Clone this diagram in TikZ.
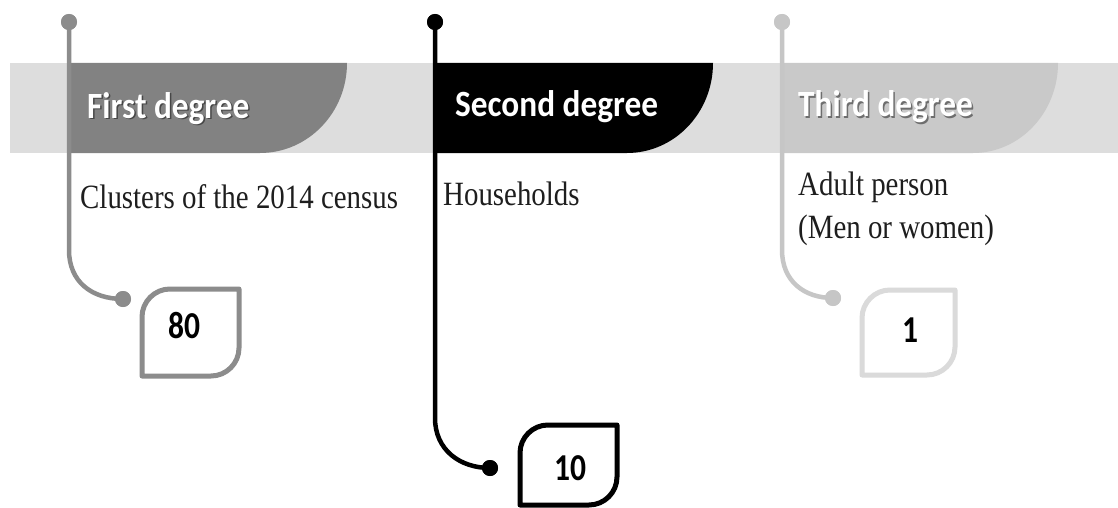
\documentclass[tikz,border=0pt]{standalone}
\usepackage{fontspec}
\setmainfont{Liberation Serif}
\newfontfamily\hdfont{Carlito}
\usetikzlibrary{calc}
\definecolor{bandgray}{HTML}{DDDDDD}
\definecolor{cone}{HTML}{828282}
\definecolor{conel}{HTML}{8C8C8C}
\definecolor{cthree}{HTML}{C9C9C9}
\definecolor{cthreel}{HTML}{C6C6C6}
\definecolor{cthreeb}{HTML}{DADADA}
\definecolor{txtdark}{HTML}{1E1E1E}
\tikzset{
  dotnode/.style={circle,inner sep=0pt,minimum size=16pt,fill=#1,draw=none},
  conn/.style={line width=4.5pt,draw=#1},
  hdtext/.style={anchor=base west,inner sep=0pt,text=white,font=\hdfont\bfseries\fontsize{37}{40}\selectfont},
  hdshadow/.style={anchor=base west,inner sep=0pt,text=black,opacity=0.45,font=\hdfont\bfseries\fontsize{37}{40}\selectfont},
  desc/.style={anchor=base west,inner sep=0pt,text=txtdark,font=\fontsize{34}{40}\selectfont},
  numtext/.style={inner sep=0pt,text=black,font=\hdfont\bfseries\fontsize{38}{40}\selectfont},
  boxline/.style={line width=5pt,draw=#1,line join=round}
}
\newcommand{\hx}[1]{\scalebox{0.9}[1]{#1}}
\newcommand{\dx}[1]{\scalebox{0.85}[1]{#1}}
\newcommand{\nx}[1]{\scalebox{0.83}[1]{#1}}
% leaf box: L T R B r color
\newcommand{\leafbox}[6]{%
  \draw[boxline=#6] (#1,#4) -- (#1,{#2+#5}) .. controls (#1,{#2+0.45*#5}) and ({#1+0.45*#5},#2) .. ({#1+#5},#2)
    -- (#3,#2) -- (#3,{#4-#5}) .. controls (#3,{#4-0.45*#5}) and ({#3-0.45*#5},#4) .. ({#3-#5},#4) -- cycle;}
% header flag: left, right, bottom-curve end, color
\newcommand{\hdflag}[4]{%
  \fill[#4] (#1,63) -- (#2,63) .. controls (#2,{63+0.5523*90}) and ({#3+0.5523*(#2-#3)},153) .. (#3,153) -- (#1,153) -- cycle;}
\begin{document}
\begin{tikzpicture}[x=1pt,y=-1pt]
\useasboundingbox (0,0) rectangle (1118,508);
\fill[white] (0,0) rectangle (1118,508);
% band
\fill[bandgray] (10,63) rectangle (1118,153);
% header flags
\hdflag{68}{347}{260}{cone}
\hdflag{435}{713}{627}{black}
\hdflag{782}{1058}{973}{cthree}
% header texts
\node[hdshadow] (h1s) at (88.5,119.5) {\hx{First degree}};
\node[hdtext] (h1) at (87,118) {\hx{First degree}};
\node[hdshadow] (h2s) at (456.5,118.5) {\hx{Second degree}};
\node[hdtext] (h2) at (455,117) {\hx{Second degree}};
\node[hdshadow] (h3s) at (799.5,118.5) {\hx{Third degree}};
\node[hdtext] (h3) at (798,117) {\hx{Third degree}};
% dots
\node[dotnode=conel] (a1) at (69,22) {};
\node[dotnode=conel] (b1) at (123,299) {};
\node[dotnode=black] (a2) at (435,22) {};
\node[dotnode=black] (b2) at (490,468) {};
\node[dotnode=cthreel] (a3) at (782,22) {};
\node[dotnode=cthreel] (b3) at (833,298) {};
% connectors
\draw[conn=conel] (a1.center) -- (69,250) .. controls (69,282) and (92,299) .. (b1.center);
\draw[conn=black] (a2.center) -- (435,418) .. controls (435,450) and (460,468) .. (b2.center);
\draw[conn=cthreel] (a3.center) -- (782,250) .. controls (782,281) and (804,298) .. (b3.center);
% redraw dots on top
\node[dotnode=conel] at (a1) {};
\node[dotnode=conel] at (b1) {};
\node[dotnode=black] at (a2) {};
\node[dotnode=black] at (b2) {};
\node[dotnode=cthreel] at (a3) {};
\node[dotnode=cthreel] at (b3) {};
% descriptions
\node[desc] (t1) at (80,208) {\dx{Clusters of the 2014 census}};
\node[desc] (t2) at (443,205) {\dx{Households}};
\node[desc] (t3a) at (798,195) {\dx{Adult person}};
\node[desc] (t3b) at (798,238) {\dx{(Men or women)}};
% boxes
\leafbox{142}{289}{239}{376}{28}{conel}
\leafbox{520}{425}{617}{505}{28}{black}
\leafbox{862}{290}{955}{375}{28}{cthreeb}
\node[numtext] (n1) at (184,326) {\nx{80}};
\node[numtext] (n2) at (570,468) {\nx{10}};
\node[numtext] (n3) at (910,330) {\nx{1}};
\end{tikzpicture}
\end{document}
